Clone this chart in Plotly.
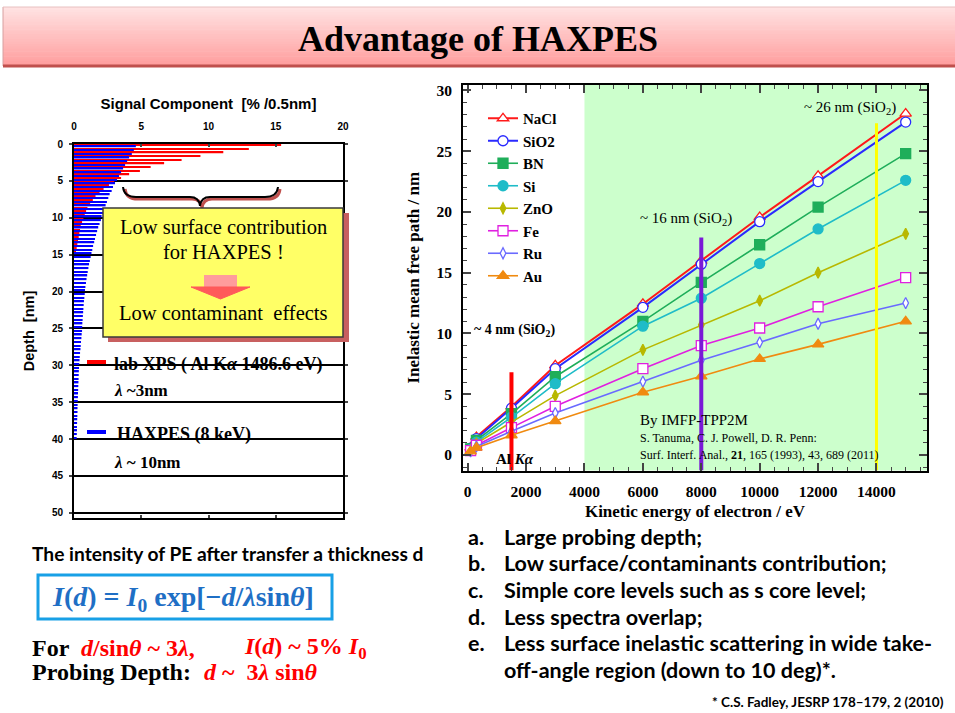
import plotly.graph_objects as go

# ---------------- data: left chart (signal per 0.5 nm slab vs depth) ----------------
slab_nm = 0.5
xps_signal_pct = [15.4, 13.0, 11.1, 9.4, 8.0, 6.7, 5.7, 4.9, 4.1, 3.5,
                  3.0, 2.6, 2.2, 1.9, 1.6, 1.4, 1.2, 1.0, 0.9, 0.8,
                  0.7, 0.6, 0.5, 0.45, 0.4, 0.35, 0.3, 0.25, 0.2, 0.15]
haxpes_signal_pct = [4.6, 4.45, 4.3, 4.1, 3.95, 3.8, 3.65, 3.5, 3.35, 3.2,
                     3.05, 2.9, 2.8, 2.65, 2.55, 2.45, 2.35, 2.25, 2.15, 2.05,
                     2.0, 1.9, 1.8, 1.72, 1.64, 1.56, 1.5, 1.42, 1.36, 1.3,
                     1.24, 1.18, 1.12, 1.07, 1.02, 0.98, 0.93, 0.89, 0.85, 0.82,
                     0.8, 0.77, 0.74, 0.72, 0.7, 0.68, 0.66, 0.64, 0.62, 0.61,
                     0.6, 0.57, 0.55, 0.52, 0.5, 0.48, 0.45, 0.43, 0.41, 0.39,
                     0.37, 0.36, 0.35, 0.34, 0.33, 0.32, 0.31, 0.3, 0.29, 0.28,
                     0.27, 0.26, 0.26, 0.25, 0.24, 0.23, 0.22, 0.22, 0.21, 0.2]
xps_depth_nm = [slab_nm * (i + 0.5) for i in range(len(xps_signal_pct))]
haxpes_depth_nm = [slab_nm * (i + 0.5) for i in range(len(haxpes_signal_pct))]
signal_ticks = [0, 5, 10, 15, 20]
depth_ticks = [0, 5, 10, 15, 20, 25, 30, 35, 40, 45, 50]

# ---------------- data: right chart (IMFP, TPP-2M) ----------------
energy_ev = [100, 300, 1500, 3000, 6000, 8000, 10000, 12000, 15000]
imfp_nacl = [0.6, 1.48, 3.97, 7.37, 12.43, 15.98, 19.57, 22.97, 28.1]
imfp_sio2 = [0.55, 1.35, 3.85, 7.1, 12.15, 15.7, 19.2, 22.5, 27.4]
imfp_bn = [0.5, 1.2, 3.4, 6.44, 11.0, 14.2, 17.3, 20.4, 24.8]
imfp_si = [0.45, 1.05, 3.1, 5.87, 10.6, 12.9, 15.75, 18.6, 22.6]
imfp_zno = [0.4, 0.95, 2.7, 4.88, 8.65, 10.7, 12.7, 15.0, 18.2]
imfp_fe = [0.35, 0.8, 2.25, 4.0, 7.1, 9.0, 10.45, 12.2, 14.6]
imfp_ru = [0.3, 0.7, 1.95, 3.45, 6.04, 7.8, 9.27, 10.8, 12.5]
imfp_au = [0.3, 0.6, 1.62, 2.78, 5.16, 6.47, 7.9, 9.1, 11.0]
material_names = ["NaCl", "SiO2", "BN", "Si", "ZnO", "Fe", "Ru", "Au"]
energy_ticks = [0, 2000, 4000, 6000, 8000, 10000, 12000, 14000]
imfp_ticks = [0, 5, 10, 15, 20, 25, 30]

photon_energy_ev = [1500, 8000, 14000]
photon_line_top_nm = [6.8, 17.9, 27.3]
bulk_region_start_ev = 4000

bullet_labels = ["a.", "b.", "c.", "d.", "e.", ""]
bullet_texts = ["Large probing depth;",
                "Low surface/contaminants contribution;",
                "Simple core levels such as s core level;",
                "Less spectra overlap;",
                "Less surface inelastic scattering in wide take-",
                "off-angle region (down to 10 deg)*."]

# ---------------- styles ----------------
SERIF = "Liberation Serif"
SANS = "Liberation Sans"
BODY = "Lato"
material_colors = ["#ff1a1a", "#2a2aff", "#1fae5a", "#1fbcc8", "#b8b800", "#e020e0", "#6a6aff", "#f08a10"]
material_symbols = ["triangle-up", "circle", "square", "circle", "diamond-tall", "square", "diamond-tall", "triangle-up"]
material_open = [True, True, False, False, False, True, True, False]
photon_colors = ["#ff0000", "#7a1ad6", "#ffff00"]
photon_widths = [4, 4, 3]

W, H = 955, 713


def fx(x):
    return x / W


def fy(y):
    return 1 - y / H


shapes = []
annotations = []


def rect(x0, y0, x1, y1, fill, line_color=None, lw=0, layer="above"):
    shapes.append(dict(type="rect", xref="paper", yref="paper",
                       x0=fx(x0), x1=fx(x1), y0=fy(y1), y1=fy(y0),
                       fillcolor=fill, layer=layer,
                       line=dict(color=line_color or fill, width=lw)))


def pline(x0, y0, x1, y1, color, lw):
    shapes.append(dict(type="line", xref="paper", yref="paper",
                       x0=fx(x0), x1=fx(x1), y0=fy(y0), y1=fy(y1),
                       line=dict(color=color, width=lw)))


def P(a, b):
    return "%.5f,%.5f" % (fx(a), fy(b))


def text(x, y, s, size, color="black", family=SERIF, bold=False, xanchor="left", italic=False):
    annotations.append(dict(xref="paper", yref="paper", x=fx(x), y=fy(y), text=s,
                            showarrow=False, xanchor=xanchor, yanchor="middle",
                            font=dict(family=family, size=size, color=color,
                                      weight="bold" if bold else "normal",
                                      style="italic" if italic else "normal")))


fig = go.Figure()

# ---------------- left chart: bars ----------------
fig.add_trace(go.Bar(x=xps_signal_pct, y=xps_depth_nm, orientation="h",
                     marker=dict(color="#ff0000", line=dict(width=0)),
                     name="lab XPS", showlegend=False, xaxis="x", yaxis="y"))
fig.add_trace(go.Bar(x=haxpes_signal_pct, y=haxpes_depth_nm, orientation="h",
                     marker=dict(color="#0000ff", line=dict(width=0)),
                     name="HAXPES", showlegend=False, xaxis="x", yaxis="y"))

# ---------------- right chart: IMFP curves ----------------
series = [imfp_nacl, imfp_sio2, imfp_bn, imfp_si, imfp_zno, imfp_fe, imfp_ru, imfp_au]
for name, vals, col, sym, op in zip(material_names, series, material_colors, material_symbols, material_open):
    msize = 8 if "diamond" in sym else 10
    fig.add_trace(go.Scatter(
        x=energy_ev, y=vals, mode="lines+markers", name=name,
        line=dict(color=col, width=2 if name in ("NaCl", "SiO2") else 1.6),
        marker=dict(symbol=sym, size=msize,
                    color="white" if op else col,
                    line=dict(color=col, width=1.3)),
        xaxis="x2", yaxis="y2"))

y2_range = [-1.28, 30.45]
for ev, top, col, w in zip(photon_energy_ev, photon_line_top_nm, photon_colors, photon_widths):
    fig.add_trace(go.Scatter(x=[ev, ev], y=[y2_range[0], top], mode="lines",
                             line=dict(color=col, width=w), showlegend=False,
                             hoverinfo="skip", xaxis="x2", yaxis="y2"))

# green "bulk-sensitive" region
shapes.append(dict(type="rect", xref="x2", yref="y2 domain", x0=bulk_region_start_ev, x1=15730,
                   y0=0, y1=1, fillcolor="#ccffcc", line=dict(width=0), layer="below"))

# ---------------- title banner ----------------
n = 24
top_c, bot_c = (255, 226, 226), (255, 158, 158)
for i in range(n):
    t = i / (n - 1)
    c = tuple(int(round(top_c[k] + (bot_c[k] - top_c[k]) * t)) for k in range(3))
    y0 = 7 + (66 - 7) * i / n
    y1 = 7 + (66 - 7) * (i + 1) / n + 0.6
    rect(3, y0, 956, y1, "rgb(%d,%d,%d)" % c)
pline(3, 7, 3, 66, "#d8a0a0", 1)
pline(3, 7, 956, 7, "#e8c0c0", 1)
pline(3, 66, 956, 66, "#c0504d", 3)
text(478, 39, "Advantage of HAXPES", 36, bold=True, xanchor="center")

# ---------------- left chart decorations ----------------
pline(87, 362, 106, 362, "#ff0000", 4)
text(112, 364, "lab XPS ( Al K<i>α</i> 1486.6 eV)", 18, bold=True)
text(112, 390, "<i>λ</i> ~3nm", 17, bold=True)
pline(87, 432, 106, 432, "#0000ff", 4)
text(115, 435, "HAXPES (8 keV)", 18, bold=True)
text(112, 462, "<i>λ</i> ~ 10nm", 17, bold=True)

# brace (shadow + black)
brace_pts = [("M", [(123, 187)]), ("Q", [(124, 197), (136, 197)]), ("L", [(190, 197)]),
             ("Q", [(199, 197), (200, 206)]), ("Q", [(201, 197), (210, 197)]), ("L", [(265, 197)]),
             ("Q", [(277, 197), (278, 187)])]
for dx, col, lw in [(2, "#c0504d", 3), (0, "black", 2)]:
    s = " ".join(c + " ".join(P(a + dx, b + dx) for a, b in pts) for c, pts in brace_pts)
    shapes.append(dict(type="path", xref="paper", yref="paper", path=s,
                       line=dict(color=col, width=lw)))

# callout box
rect(108, 213, 349, 342, "#c86060")
rect(103, 208, 343, 337, "#ffff66", "#3a3a3a", 1.5)
text(223, 227, "Low surface contribution", 20.5, xanchor="center")
text(223, 252, "for HAXPES !", 20.5, xanchor="center")
rect(204, 275, 237, 287, "#ff9c9c")
arrow_head = "M %s L %s L %s Z" % (P(191, 287), P(250, 287), P(220.5, 299))
shapes.append(dict(type="path", xref="paper", yref="paper", path=arrow_head,
                   fillcolor="#ff5a5a", line=dict(color="#ff5a5a", width=1)))
text(223, 313, "Low contaminant  effects", 20.5, xanchor="center")

# ---------------- right chart text ----------------
text(472, 330, "~ 4 nm (SiO<sub>2</sub>)", 14, bold=True)
text(686, 219, "~ 16 nm (SiO<sub>2</sub>)", 15, xanchor="center")
text(850, 108, "~ 26 nm (SiO<sub>2</sub>)", 15, xanchor="center")
text(494, 459, "Al <i>Kα</i>", 15, bold=True)
text(638, 420, "By IMFP-TPP2M", 15)
text(638, 438, "S. Tanuma, C. J. Powell, D. R. Penn:", 12)
text(638, 455, "Surf. Interf. Anal., <b>21</b>, 165 (1993), 43, 689 (2011)", 12)

# ---------------- bottom-left text ----------------
text(30, 553, "The intensity of PE after transfer a thickness d", 19.2, family=BODY, bold=True)
rect(38, 575, 332, 619, "white", "#18a0e6", 3)
text(183, 598, "<i>I</i>(<i>d</i>) = <i>I</i><sub>0</sub> exp[−<i>d</i>/<i>λ</i>sin<i>θ</i>]", 28,
     color="#1f6fc5", bold=True, xanchor="center")
text(30, 648, "For", 24, bold=True)
text(79, 648, "<i>d</i>/sin<i>θ</i> ~ 3<i>λ</i>,", 24, color="#ff0000", bold=True)
text(242, 648, "<i>I</i>(<i>d</i>) ~ 5% <i>I</i><sub>0</sub>", 24, color="#ff0000", bold=True)
text(30, 672, "Probing Depth:", 24, bold=True)
text(202, 672, "<i>d</i> ~  3<i>λ</i> sin<i>θ</i>", 24, color="#ff0000", bold=True)

# ---------------- bullet list ----------------
bullet_y = [537, 563, 590, 617, 643, 670]
for lab, s, yy in zip(bullet_labels, bullet_texts, bullet_y):
    if lab:
        text(466, yy, lab, 21.5, family=BODY, bold=True)
    text(502, yy, s, 21.5, family=BODY, bold=True)
text(946, 702, "* C.S. Fadley, JESRP 178–179, 2 (2010)", 13.5, family=BODY, bold=True, xanchor="right")

axis_common = dict(showgrid=False, zeroline=False, showline=True, linecolor="black", automargin=False)

fig.update_layout(
    width=W, height=H, autosize=False, template="none",
    margin=dict(l=0, r=0, t=0, b=0, pad=0),
    paper_bgcolor="white", plot_bgcolor="white",
    font=dict(family=SERIF, color="black"),
    barmode="group", bargap=0.18, bargroupgap=0.0,
    showlegend=True,
    legend=dict(x=fx(483), y=fy(102), xanchor="left", yanchor="top",
                bgcolor="rgba(255,255,255,0)", borderwidth=0,
                font=dict(family=SERIF, size=15, weight="bold", color="black"),
                itemwidth=30, tracegroupgap=0),
    xaxis=dict(domain=[fx(74), fx(343)], range=[0, 20], side="top", anchor="y",
               tickvals=signal_ticks, ticks="inside", ticklen=3, tickwidth=1.5, mirror="ticks",
               linewidth=2, ticklabelstandoff=8,
               tickfont=dict(family=SANS, size=10, weight="bold"),
               title=dict(text="Signal Component  [% /0.5nm]", standoff=8,
                          font=dict(family=SANS, size=15, weight="bold")),
               **axis_common),
    yaxis=dict(domain=[fy(518), fy(144)], range=[50.7, 0], anchor="x",
               tickvals=depth_ticks, ticks="outside", ticklen=3, tickwidth=1.5, mirror="ticks",
               linewidth=2, ticklabelstandoff=4,
               tickfont=dict(family=SANS, size=10, weight="bold"),
               title=dict(text="Depth  [nm]", standoff=14,
                          font=dict(family=SANS, size=14.5, weight="bold")),
               showline=True, linecolor="black", zeroline=False, automargin=False,
               showgrid=True, gridcolor="black", gridwidth=1.5),
    xaxis2=dict(domain=[fx(463), fx(927)], range=[-160, 15730], anchor="y2",
                tickvals=energy_ticks, tickformat="d", ticks="inside", ticklen=8, tickwidth=1.5,
                mirror="allticks",
                minor=dict(ticks="inside", ticklen=4, dtick=500, tickwidth=1),
                linewidth=2, ticklabelstandoff=6,
                tickfont=dict(family=SERIF, size=15.5, weight="bold"),
                title=dict(text="Kinetic energy of electron / eV", standoff=6,
                           font=dict(family=SERIF, size=17, weight="bold")),
                **axis_common),
    yaxis2=dict(domain=[fy(470.5), fy(85)], range=y2_range, anchor="x2",
                tickvals=imfp_ticks, ticks="inside", ticklen=8, tickwidth=1.5, mirror="allticks",
                minor=dict(ticks="inside", ticklen=4, dtick=1, tickwidth=1),
                linewidth=2, ticklabelstandoff=6,
                tickfont=dict(family=SERIF, size=15.5, weight="bold"),
                title=dict(text="Inelastic mean free path / nm", standoff=12,
                           font=dict(family=SERIF, size=17, weight="bold")),
                **axis_common),
    shapes=shapes,
    annotations=annotations,
)

fig.write_html("out.html", config={"displayModeBar": False},
               post_script="document.body.style.margin='0px';")
